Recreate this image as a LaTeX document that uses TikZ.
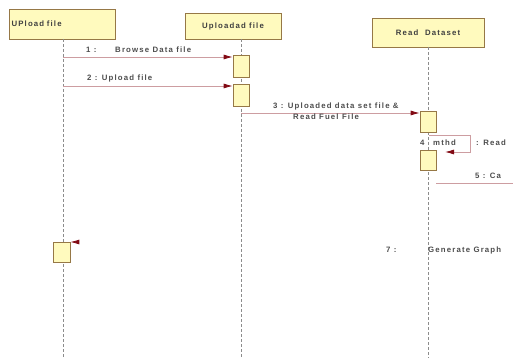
\documentclass[tikz,border=0pt]{standalone}
\usepackage{fontspec}
\setmainfont{Liberation Sans}
\newfontfamily\umlfont[LetterSpace=15]{Liberation Sans}
\usetikzlibrary{arrows.meta}
\definecolor{actfill}{RGB}{255,250,190}
\definecolor{actedge}{RGB}{150,120,70}
\definecolor{msgred}{RGB}{130,10,20}
\tikzset{
  objbox/.style={draw=actedge,fill=actfill,line width=0.9pt,inner sep=0pt,
    font=\umlfont\fontsize{7.8}{9}\selectfont\bfseries,text=black!75},
  actbox/.style={draw=actedge,fill=actfill,line width=0.7pt,
    minimum width=16pt,inner sep=0pt},
  lifeline/.style={gray!90,densely dashed,line width=0.6pt},
  msg/.style={draw=msgred!40,line width=0.8pt,
    -{Latex[length=9pt,width=5pt,color=msgred]}},
  lbl/.style={font=\umlfont\fontsize{7.8}{11}\selectfont\bfseries,text=black!70,inner sep=0pt}
}

\begin{document}
\begin{tikzpicture}[x=1pt,y=-1pt]
  \useasboundingbox (0,0) rectangle (513,358);
  \clip (0,0) rectangle (513,358);

  % objects
  \node[objbox,minimum width=106pt,minimum height=30pt,text width=101pt,align=left]
    (upl) at (62,24) {UPload file};
  \node[objbox,minimum width=96pt,minimum height=26pt,align=center]
    (upd) at (233,26) {Uploadad file};
  \node[objbox,minimum width=112pt,minimum height=29pt,align=center]
    (rds) at (428,32.5) {Read\ \ Dataset};

  \coordinate (l1) at (63,39);
  \coordinate (l2) at (241,39);
  \coordinate (l3) at (428,47);
  \coordinate (e1) at (63,358);
  \coordinate (e2) at (241,358);
  \coordinate (e3) at (428,358);
  \draw[lifeline] (l1) -- (e1);
  \draw[lifeline] (l2) -- (e2);
  \draw[lifeline] (l3) -- (e3);

  % activations
  \node[actbox,minimum height=22pt] (a21) at (241,66) {};
  \node[actbox,minimum height=22pt] (a22) at (241,95) {};
  \node[actbox,minimum height=21pt] (a31) at (428,122) {};
  \node[actbox,minimum height=20pt] (a32) at (428,160) {};
  \node[actbox,minimum height=20pt,minimum width=17pt] (a11) at (61.5,252) {};

  % messages
  \coordinate (m1) at (63,57);
  \coordinate (m2) at (63,86);
  \coordinate (m3) at (241,113);
  \coordinate (m5) at (436,183);
  \coordinate (m5e) at (513,183);
  \coordinate (m6) at (87,242);
  \draw[msg] (m1) -- (m1 -| a21.west);
  \draw[msg] (m2) -- (m2 -| a22.west);
  \draw[msg] (m3) -- (m3 -| a31.west);
  \draw[draw=msgred!40,line width=0.8pt] (m5) -- (m5e);
  \draw[msg,draw=white] (m6) -- (m6 -| a11.east);

  % self call
  \coordinate (s1) at (429,135);
  \coordinate (s2) at (470,135);
  \coordinate (s3) at (470,152);
  \draw[draw=msgred!40,line width=0.8pt] (s1) -- (s2) -- (s3) -- ++(-15,0);
  \draw[msg] (s3) ++(-14,0) coordinate (s4) -- ++(-11,0);

  % labels
  \node[lbl,anchor=west] (t1a) at (86,50) {1 :};
  \node[lbl,anchor=west] (t1b) at (115,50) {Browse Data file};
  \node[lbl,anchor=west] (t2) at (87,78) {2 : Upload file};
  \node[lbl,anchor=west,align=left] (t3) at (273,111)
    {3 : Uploaded data set file \&\\\hspace*{20pt}Read Fuel File};
  \node[lbl,anchor=west] (t4a) at (420,143) {4};
  \node[lbl,anchor=west] (t4b) at (433,143) {mthd};
  \node[lbl,anchor=west] (t4c) at (476,143) {: Read};
  \node[lbl,anchor=west] (t5) at (475,176) {5 : Ca};
  \node[lbl,anchor=west] (t7a) at (386,250) {7 :};
  \node[lbl,anchor=west] (t7b) at (428,250) {Generate Graph};
\end{tikzpicture}
\end{document}
